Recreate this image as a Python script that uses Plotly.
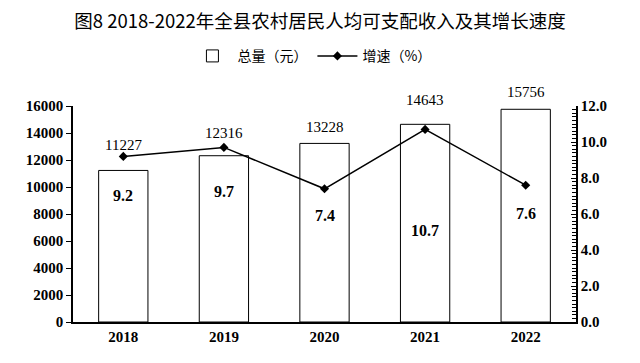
import plotly.graph_objects as go

years = ["2018", "2019", "2020", "2021", "2022"]
income = [11227, 12316, 13228, 14643, 15756]
growth = [9.2, 9.7, 7.4, 10.7, 7.6]
left_ticks = [0, 2000, 4000, 6000, 8000, 10000, 12000, 14000, 16000]
right_ticks = [0, 2, 4, 6, 8, 10, 12]

# label pixel offsets (styling)
income_shift = [25, 23, 16, 24, 17]
growth_shift = [-39, -44, -27, -101, -28]

num_font = "Liberation Serif"
cjk_font = "Noto Sans CJK SC"

fig = go.Figure()
fig.add_trace(go.Bar(
    x=years, y=income, name="总量（元）",
    marker=dict(color="white", line=dict(color="black", width=1)),
    width=0.49, yaxis="y",
))
fig.add_trace(go.Scatter(
    x=years, y=growth, name="增速（%）", mode="lines+markers",
    line=dict(color="black", width=1.5),
    marker=dict(symbol="diamond", size=7, color="black"),
    yaxis="y2",
))

annotations = []
for i, (v, s) in enumerate(zip(income, income_shift)):
    annotations.append(dict(x=i, y=v, xref="x", yref="y", text=str(v), showarrow=False,
                            yshift=s, font=dict(family=num_font, size=15, color="black")))
for i, (v, s) in enumerate(zip(growth, growth_shift)):
    annotations.append(dict(x=i, y=v, xref="x", yref="y2", text=f"{v:.1f}", showarrow=False,
                            yshift=s, font=dict(family=num_font, size=16, color="black", weight="bold")))

fig.update_layout(
    width=632, height=355,
    margin=dict(l=65, r=64, t=98, b=41, autoexpand=False),
    paper_bgcolor="white", plot_bgcolor="white",
    title=dict(text="图8 2018-2022年全县农村居民人均可支配收入及其增长速度",
               x=0.4937, xanchor="center", y=0.962, yanchor="middle",
               font=dict(family=cjk_font, size=18.5, color="black")),
    legend=dict(orientation="h", x=0.475, xanchor="center", y=1.23, yanchor="middle",
                font=dict(family=cjk_font, size=14, color="black"),
                bgcolor="rgba(0,0,0,0)", itemwidth=40),
    showlegend=True,
    annotations=annotations,
    xaxis=dict(type="category", range=[-0.5, 4.5], showline=True, linecolor="black", linewidth=1.5,
               automargin=False,
               ticks="", tickfont=dict(family=num_font, size=15, color="black", weight="bold"),
               showgrid=False, zeroline=False),
    yaxis=dict(range=[0, 16000], tickvals=left_ticks, tickformat="d", ticks="outside", ticklen=5,
               automargin=False,
               tickcolor="black", showline=True, linecolor="black", linewidth=1.5,
               tickfont=dict(family=num_font, size=15, color="black", weight="bold"),
               showgrid=False, zeroline=False),
    yaxis2=dict(range=[0, 12], tickvals=right_ticks, tickformat=".1f", overlaying="y",
                side="right", ticks="inside", ticklen=5, tickcolor="black", automargin=False,
                showline=True, linecolor="black", linewidth=1.5,
                minor=dict(dtick=0.2, ticks="inside", ticklen=4, tickcolor="black"),
                tickfont=dict(family=num_font, size=15, color="black", weight="bold"),
                showgrid=False, zeroline=False),
)

fig.write_html("out.html")
